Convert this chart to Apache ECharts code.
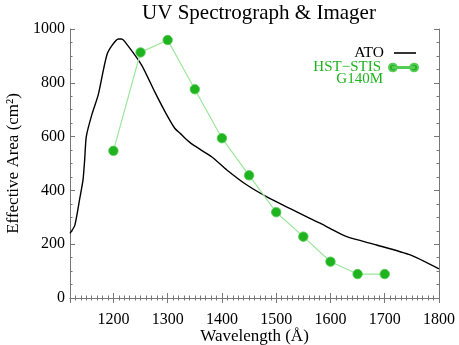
<!DOCTYPE html>
<html>
<head>
<meta charset="utf-8">
<script src="https://cdn.jsdelivr.net/npm/echarts@6/dist/echarts.min.js"></script>
<style>
  html, body { margin: 0; padding: 0; background: #fff; }
  #chart { width: 459px; height: 345px; }
</style>
</head>
<body>
<div id="chart"></div>
<script>
// ATO effective area curve
var atoWave = [1120, 1129, 1138, 1144, 1147, 1150, 1160, 1172, 1189, 1209, 1215, 1221, 1252, 1276, 1295, 1313, 1323, 1332, 1347, 1381, 1409, 1446, 1482, 1525, 1562, 1581, 1599, 1630, 1685, 1747, 1800];
var atoArea = [240, 271, 370, 439, 513, 600, 680, 755, 910, 963, 963, 953, 866, 767, 693, 631, 612, 594, 569, 525, 476, 420, 377, 333, 296, 278, 259, 228, 197, 160, 108];

// HST-STIS G140M points
var hstWave = [1200, 1250, 1300, 1350, 1400, 1450, 1500, 1550, 1600, 1650, 1700];
var hstArea = [547, 913, 959, 776, 594, 456, 319, 228, 135, 89, 89];

var yTicks = [0, 200, 400, 600, 800, 1000];

var serif = 'Liberation Serif';
var green = '#1fb31f';
var frame = '#777';

function pairs(xs, ys) {
    return xs.map(function (x, i) { return [x, ys[i]]; });
}

var myChart = echarts.init(document.getElementById('chart'));

function axisStyle(minorSplit) {
    return {
        axisLine: { show: true, lineStyle: { color: frame, width: 1 } },
        axisTick: { show: true, inside: true, length: 5, lineStyle: { color: frame } },
        minorTick: { show: true, splitNumber: minorSplit, length: 2.5, lineStyle: { color: frame } },
        splitLine: { show: false }
    };
}

var option = {
    animation: false,
    backgroundColor: '#fff',
    title: {
        text: 'UV Spectrograph & Imager',
        left: 254,
        textAlign: 'center',
        top: -2,
        textStyle: { fontFamily: serif, fontSize: 21, fontWeight: 'normal', color: '#000' }
    },
    legend: [{
        data: [{ name: 'ATO', textStyle: { color: '#000' } }],
        orient: 'vertical',
        align: 'right',
        padding: 0,
        right: 43,
        top: 45,
        icon: 'rect',
        itemWidth: 22,
        itemHeight: 1.6,
        textStyle: { fontFamily: serif, fontSize: 15.5, padding: [0, 5, 0, 0] }
    }, {
        data: [{ name: 'HST−STIS', textStyle: { color: green } }],
        orient: 'vertical',
        align: 'right',
        padding: 0,
        right: 40,
        top: 60,
        icon: 'path://M0,4a4,4 0 1,0 8,0a4,4 0 1,0 -8,0Z M4,3.4h22v1.2h-22Z M22,4a4,4 0 1,0 8,0a4,4 0 1,0 -8,0Z',
        itemWidth: 29,
        itemHeight: 8,
        textStyle: { fontFamily: serif, fontSize: 15, padding: [0, 3, 0, 0] }
    }],
    graphic: [{
        type: 'text',
        right: 76,
        top: 72,
        style: { text: 'G140M', fill: green, font: '15px "Liberation Serif"' }
    }],
    grid: { left: 70, right: 20, top: 29, bottom: 47, outerBoundsMode: 'none' },
    xAxis: [Object.assign({
        type: 'value',
        min: 1120,
        max: 1800,
        splitNumber: 7,
        name: 'Wavelength (Å)',
        nameLocation: 'middle',
        nameGap: 30,
        nameMoveOverlap: false,
        nameTextStyle: { fontFamily: serif, fontSize: 17, color: '#000' },
        axisLabel: {
            showMinLabel: false, margin: 14, fontFamily: serif, fontSize: 16, color: '#000',
            formatter: function (v) { return String(v); }
        }
    }, axisStyle(10)),
    Object.assign({
        type: 'value',
        position: 'top',
        min: 1120,
        max: 1800,
        splitNumber: 7,
        axisLabel: { show: false }
    }, axisStyle(10))],
    yAxis: [Object.assign({
        type: 'value',
        min: yTicks[0],
        max: yTicks[yTicks.length - 1],
        interval: yTicks[1] - yTicks[0],
        name: 'Effective Area (cm²)',
        nameLocation: 'middle',
        nameGap: 48,
        nameMoveOverlap: false,
        nameTextStyle: { fontFamily: serif, fontSize: 17, color: '#000' },
        axisLabel: {
            margin: 5, fontFamily: serif, fontSize: 16, color: '#000',
            formatter: function (v) { return String(v); }
        }
    }, axisStyle(4)),
    Object.assign({
        type: 'value',
        position: 'right',
        min: yTicks[0],
        max: yTicks[yTicks.length - 1],
        interval: yTicks[1] - yTicks[0],
        axisLabel: { show: false }
    }, axisStyle(4))],
    series: [{
        name: 'ATO',
        type: 'line',
        data: pairs(atoWave, atoArea),
        symbol: 'none',
        smooth: 0.2,
        lineStyle: { color: '#000', width: 1.4 },
        itemStyle: { color: '#000' }
    }, {
        name: 'HST−STIS',
        type: 'line',
        data: pairs(hstWave, hstArea),
        symbol: 'circle',
        symbolSize: 9.5,
        lineStyle: { color: '#9be69b', width: 1.2 },
        itemStyle: { color: green, borderColor: '#55cc55', borderWidth: 0.8 },
        z: 3
    }]
};
myChart.setOption(option);
</script>
</body>
</html>
